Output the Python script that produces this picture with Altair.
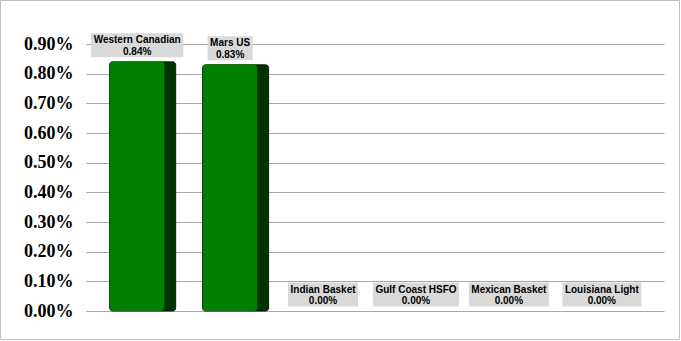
import altair as alt
import pandas as pd

categories = ["Western Canadian", "Mars US", "Indian Basket", "Gulf Coast HSFO",
              "Mexican Basket", "Louisiana Light"]
values = [0.0084, 0.0083, 0.0, 0.0, 0.0, 0.0]
y_ticks = [0.000, 0.001, 0.002, 0.003, 0.004, 0.005, 0.006, 0.007, 0.008, 0.009]

# Arial Bold advance widths (per 1000 em) for sizing label boxes from the text itself
_W = {" ": 278, "%": 889, ".": 278, "0": 556, "1": 556, "2": 556, "3": 556, "4": 556,
      "5": 556, "6": 556, "7": 556, "8": 556, "9": 556,
      "A": 722, "B": 722, "C": 722, "D": 722, "E": 667, "F": 611, "G": 778, "H": 722,
      "I": 278, "J": 556, "K": 722, "L": 611, "M": 833, "N": 722, "O": 778, "P": 667,
      "Q": 778, "R": 722, "S": 667, "T": 611, "U": 722, "V": 667, "W": 944, "X": 667,
      "Y": 667, "Z": 611,
      "a": 556, "b": 611, "c": 556, "d": 611, "e": 556, "f": 333, "g": 611, "h": 611,
      "i": 278, "j": 278, "k": 556, "l": 278, "m": 889, "n": 611, "o": 611, "p": 611,
      "q": 611, "r": 389, "s": 556, "t": 333, "u": 611, "v": 556, "w": 778, "x": 556,
      "y": 556, "z": 500}


def text_width(s, size=10):
    return sum(_W.get(c, 556) for c in s) * size / 1000.0


df = pd.DataFrame({"name": categories, "value": values})
df["label"] = [f"{v * 100:.2f}%" for v in values]
df["box_w"] = [max(text_width(n), text_width(l)) + 5 for n, l in zip(df["name"], df["label"])]

W, H = 578, 267
PAD_L, PAD_T = 86, 44

x = alt.X("name:N", sort=categories, axis=None,
          scale=alt.Scale(paddingInner=0.3, paddingOuter=0.26))
y = alt.Y("value:Q",
          scale=alt.Scale(domain=[0, 0.009], nice=False, zero=True),
          axis=alt.Axis(values=y_ticks, format=".2%", grid=True, gridColor="#a6a6a6",
                        gridWidth=1, domain=False, ticks=False,
                        labelFont="Liberation Serif", labelFontSize=18,
                        labelFontWeight="bold", labelColor="#000000",
                        labelPadding=13, title=None))

base = alt.Chart(df).encode(x=x, y=y)
pos = base.transform_filter("datum.value > 0")

side = pos.mark_bar(width=66, color="#003300", cornerRadius=3,
                    stroke="#002000", strokeWidth=1)
front = pos.mark_bar(width=55, xOffset=-5.5, color="#008000", cornerRadius=3)

box = base.mark_tick(color="#d9d9d9", thickness=24, yOffset=-16.5, xOffset=-5.5,
                     opacity=1).encode(size=alt.Size("box_w:Q", scale=None, legend=None))

text1 = base.mark_text(dy=-18.5, dx=-5.5, baseline="alphabetic", align="center",
                       font="Liberation Sans", fontSize=10, fontWeight="bold",
                       color="#000000").encode(text="name:N")
text2 = base.mark_text(dy=-7, dx=-5.5, baseline="alphabetic", align="center",
                       font="Liberation Sans", fontSize=10, fontWeight="bold",
                       color="#000000").encode(text="label:N")

border = alt.Chart(alt.Data(values=[{"a": 1}])).mark_rect(
    filled=False, stroke="#c0c0c0", strokeWidth=1
).encode(x=alt.value(-PAD_L + 0.5), x2=alt.value(593.5),
         y=alt.value(-PAD_T + 0.5), y2=alt.value(295.5))

chart = alt.layer(side, front, box, text1, text2, border).properties(
    width=W, height=H,
    autosize=alt.AutoSizeParams(type="none"),
    padding={"left": PAD_L, "top": PAD_T, "right": 681 - PAD_L - W, "bottom": 341 - PAD_T - H},
    background="#ffffff",
).configure_view(stroke=None)

chart.save("out.html", embed_options={"renderer": "svg", "actions": False})
